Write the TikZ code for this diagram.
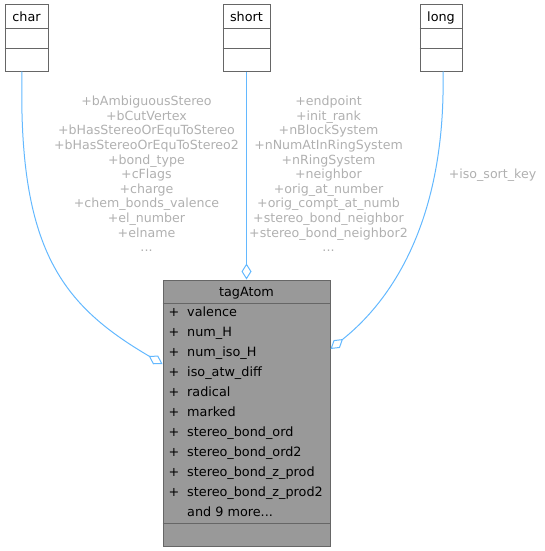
\documentclass[tikz,border=0pt]{standalone}
\usepackage{fontspec}
\setmainfont{DejaVu Sans}
\usetikzlibrary{arrows.meta}
\definecolor{boxline}{HTML}{666666}
\definecolor{boxfill}{HTML}{999999}
\definecolor{edgeblue}{HTML}{63B8FF}
\definecolor{labelgray}{HTML}{B0B0B0}
\begin{document}
\begin{tikzpicture}[x=1pt, y=-1pt,
  typebox/.style={draw=boxline, line width=1pt, fill=white, minimum height=66pt, inner sep=0pt},
  atombox/.style={draw=boxline, line width=1pt, fill=boxfill, minimum width=167pt, minimum height=266pt, inner sep=0pt},
  divider/.style={draw=boxline, line width=1pt},
  boxtext/.style={font=\fontsize{12.8}{15}\selectfont, inner sep=0pt},
  memberlabel/.style={font=\fontsize{12.6}{14.6}\selectfont, text=labelgray, align=center, inner sep=0pt},
  assoc/.style={draw=edgeblue, line width=1pt, -{Diamond[open, length=16pt, width=10pt]}}]
  \useasboundingbox (0,0) rectangle (545,551);
  % Type boxes
  \node[typebox, minimum width=43pt] (char) at (26.5,38) {};
  \node[typebox, minimum width=47pt] (short) at (246.5,38) {};
  \node[typebox, minimum width=42pt] (long) at (441,38) {};
  \node[boxtext, anchor=base] (chartitle) at (26.5,22) {char};
  \node[boxtext, anchor=base] (shorttitle) at (246.5,22) {short};
  \node[boxtext, anchor=base] (longtitle) at (441,22) {long};
  \foreach \t in {char, short, long} {
    \draw[divider] (\t.west |- 0,29) -- (\t.east |- 0,29);
    \draw[divider] (\t.west |- 0,49) -- (\t.east |- 0,49);
  }
  % Main struct
  \node[atombox] (atom) at (246.5,413) {};
  \node[boxtext, anchor=base] (atomtitle) at (246.5,296.5) {tagAtom};
  \draw[divider] (atom.west |- 0,303) -- (atom.east |- 0,303);
  \draw[divider] (atom.west |- 0,523) -- (atom.east |- 0,523);
  \foreach \member [count=\i from 0] in {valence, num\_H, num\_iso\_H, iso\_atw\_diff, radical, marked,
      stereo\_bond\_ord, stereo\_bond\_ord2, stereo\_bond\_z\_prod, stereo\_bond\_z\_prod2} {
    \node[boxtext, anchor=base] (plus\i) at (174,{316.5+20*\i}) {+};
    \node[boxtext, anchor=base west] (member\i) at (187,{316.5+20*\i}) {\member};
  }
  \node[boxtext, anchor=base west] (more) at (187,516.5) {and 9 more...};
  % Associations
  \draw[assoc] ([xshift=-4.5pt]char.south) .. controls (18,250) and (62,305) .. ([yshift=49pt]atom.west);
  \draw[assoc] (short.south) -- (atom.north);
  \draw[assoc] ([xshift=2pt]long.south) .. controls (446,220) and (392,300) .. ([yshift=64pt]atom.east);
  % Member labels
  \node[memberlabel] (charlabel) at (146.5,174) {+bAmbiguousStereo\\+bCutVertex\\+bHasStereoOrEquToStereo\\
    +bHasStereoOrEquToStereo2\\+bond\_type\\+cFlags\\+charge\\+chem\_bonds\_valence\\+el\_number\\+elname\\...};
  \node[memberlabel] (shortlabel) at (328.5,174) {+endpoint\\+init\_rank\\+nBlockSystem\\+nNumAtInRingSystem\\
    +nRingSystem\\+neighbor\\+orig\_at\_number\\+orig\_compt\_at\_numb\\+stereo\_bond\_neighbor\\+stereo\_bond\_neighbor2\\...};
  \node[memberlabel] (longlabel) at (492.5,175) {+iso\_sort\_key};
\end{tikzpicture}
\end{document}
